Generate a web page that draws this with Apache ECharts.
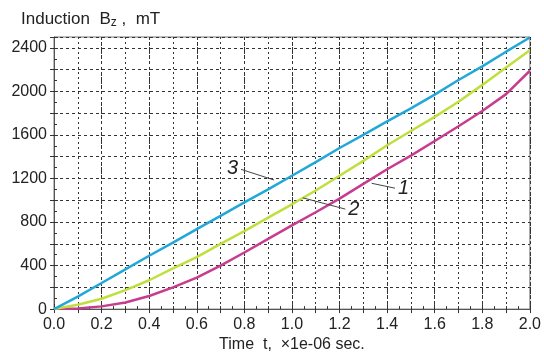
<!DOCTYPE html>
<html>
<head>
<meta charset="utf-8">
<script src="https://cdn.jsdelivr.net/npm/echarts@6/dist/echarts.min.js"></script>
<style>
html,body{margin:0;padding:0;background:#fff;}
#c{width:544px;height:358px;}
</style>
</head>
<body>
<div id="c"></div>
<script>
// time, ×1e-06 sec
var times = [0.0,0.1,0.2,0.3,0.4,0.5,0.6,0.7,0.8,0.9,1.0,1.1,1.2,1.3,1.4,1.5,1.6,1.7,1.8,1.9,2.0];
// curve 1 (magenta)
var curve1 = [0,5,25,60,120,200,290,400,520,645,770,890,1015,1150,1285,1410,1545,1680,1820,1975,2190];
// curve 2 (yellow-green)
var curve2 = [0,40,95,175,265,375,478,600,716,840,963,1090,1225,1362,1505,1636,1766,1905,2060,2220,2378];
// curve 3 (blue)
var curve3 = [0,115,240,365,490,610,735,857,980,1100,1225,1350,1480,1600,1725,1845,1970,2105,2230,2365,2495];
// y tick labels
var yTicks = [0,400,800,1200,1600,2000,2400];
// x tick labels
var xTicks = [0.0,0.2,0.4,0.6,0.8,1.0,1.2,1.4,1.6,1.8,2.0];
// annotation labels and leader lines [from(t,B), to(t,B)]
var annoLabels = ['1','2','3'];
var annoFrom = [[1.335,1156],[1.046,1022],[0.925,1186]];
var annoTo = [[1.433,1111],[1.224,919],[0.786,1284]];

function pair(arr){ return times.map(function(t,i){ return [t, arr[i]]; }); }

var chart = echarts.init(document.getElementById('c'));
var colors = ['#c83c8f','#bfe03c','#22a8d8'];
var curves = [curve1, curve2, curve3];

var series = curves.map(function(c, k){
  return {
    type:'line', data: pair(c), symbol:'none', smooth:false,
    lineStyle:{color:colors[k], width:2.5}, z: 3,
    markLine:{
      silent:true, symbol:['none','none'],
      lineStyle:{color:'#444', width:1, type:'solid'},
      label:{show:true, position:'end', formatter: annoLabels[k],
        fontSize:20, fontStyle:'italic', color:'#222', fontFamily:'Liberation Sans, Arial', distance:3},
      data:[[{coord:annoFrom[k]},{coord:annoTo[k]}]]
    }
  };
});

var axisFont = {fontFamily:'Liberation Sans, Arial', fontSize:16, color:'#222'};
var gridLine = {show:true, lineStyle:{color:'#333', type:[3,3], width:1}};

chart.setOption({
  animation:false,
  backgroundColor:'#fff',
  title:{
    text:'{a|Induction  B}{s|z}{a| ,  mT}',
    left:16, top:4,
    textStyle:{fontWeight:'normal', rich:{
      a:{fontFamily:'Liberation Sans, Arial', fontSize:17, fontWeight:'normal', color:'#222'},
      s:{fontFamily:'Liberation Sans, Arial', fontSize:12, fontWeight:'normal', color:'#222', padding:[8,0,0,0]}
    }}
  },
  grid:{left:54, right:11, top:37, bottom:41, show:true, borderColor:'#777', borderWidth:1},
  xAxis:[{
    type:'value', min:0, max:2, interval:0.2,
    name:'Time  t,  \u00d71e-06 sec.', nameLocation:'middle', nameGap:27,
    nameTextStyle:axisFont,
    axisLine:{show:true, lineStyle:{color:'#555', width:1}},
    axisTick:{show:true, inside:true, length:5, lineStyle:{color:'#333'}},
    minorTick:{show:true, splitNumber:4, length:3, lineStyle:{color:'#333'}},
    axisLabel:Object.assign({margin:7, formatter:function(v){
      var r = Math.round(v*10)/10; return xTicks.indexOf(r) >= 0 ? r.toFixed(1) : '';}}, axisFont),
    splitLine:gridLine,
    minorSplitLine:{show:false}
  },{
    type:'value', min:0, max:2, interval:0.1, position:'top',
    axisLine:{show:false}, axisLabel:{show:false}, splitLine:{show:false},
    axisTick:{show:true, inside:true, length:4, lineStyle:{color:'#333'}}
  },{
    type:'value', min:0, max:2, interval:0.1, position:'bottom', gridIndex:0,
    axisLine:{show:false}, axisLabel:{show:false},
    splitLine:{show:true, lineStyle:{color:'#333', type:[2,3], width:1}},
    axisTick:{show:false}
  }],
  yAxis:[{
    type:'value', min:0, max:2500, interval:200,
    axisLine:{show:true, lineStyle:{color:'#555', width:1}},
    axisTick:{show:true, inside:true, length:4, lineStyle:{color:'#333'}},
    minorTick:{show:true, splitNumber:2, length:3, lineStyle:{color:'#333'}},
    axisLabel:Object.assign({margin:7, showMaxLabel:false, formatter:function(v){
      return yTicks.indexOf(v) >= 0 ? String(v) : '';}}, axisFont),
    splitLine:gridLine
  },{
    type:'value', min:0, max:2500, interval:200, position:'right',
    axisLine:{show:false}, axisLabel:{show:false}, splitLine:{show:false},
    axisTick:{show:true, inside:true, length:4, lineStyle:{color:'#333'}}
  }],
  series: series
});
</script>
</body>
</html>
